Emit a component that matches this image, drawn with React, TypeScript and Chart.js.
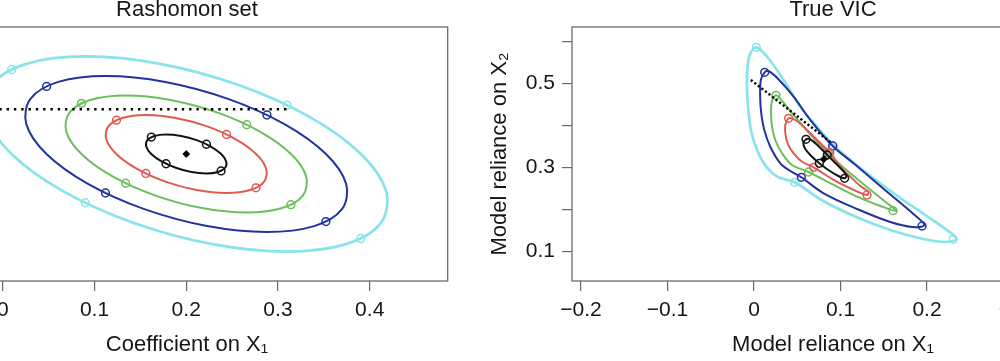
import React, { useEffect, useRef } from "react";
import { Chart, registerables } from "chart.js";

Chart.register(...registerables);

type Pt = [number, number];

// ---------- Left panel: Rashomon set (coefficient space) ----------
const rashomonBlack: Pt[] = [
  [0.2381, 0.25], [0.2436, 0.2353], [0.2424, 0.2229], [0.2348, 0.2145], [0.2219, 0.2116], [0.2057, 0.2145],
  [0.1886, 0.2229], [0.1732, 0.2353], [0.1619, 0.25], [0.1564, 0.2647], [0.1576, 0.2772], [0.1652, 0.2855],
  [0.1781, 0.2884], [0.1943, 0.2855], [0.2114, 0.2772], [0.2268, 0.2647],
];
const rashomonRed: Pt[] = [
  [0.2762, 0.25], [0.2872, 0.2206], [0.2849, 0.1957], [0.2697, 0.179], [0.2439, 0.1732], [0.2114, 0.179],
  [0.1772, 0.1957], [0.1464, 0.2206], [0.1238, 0.25], [0.1128, 0.2794], [0.1151, 0.3043], [0.1303, 0.321],
  [0.1561, 0.3268], [0.1886, 0.321], [0.2228, 0.3043], [0.2536, 0.2794],
];
const rashomonGreen: Pt[] = [
  [0.3142, 0.25], [0.3307, 0.2059], [0.3273, 0.1686], [0.3045, 0.1436], [0.2658, 0.1348], [0.2171, 0.1436],
  [0.1658, 0.1686], [0.1197, 0.2059], [0.0858, 0.25], [0.0693, 0.2941], [0.0727, 0.3314], [0.0955, 0.3564],
  [0.1342, 0.3652], [0.1829, 0.3564], [0.2342, 0.3314], [0.2803, 0.2941],
];
const rashomonBlue: Pt[] = [
  [0.3523, 0.25], [0.3743, 0.1912], [0.3698, 0.1414], [0.3394, 0.1081], [0.2878, 0.0964], [0.2228, 0.1081],
  [0.1544, 0.1414], [0.0929, 0.1912], [0.0477, 0.25], [0.0257, 0.3088], [0.0302, 0.3586], [0.0606, 0.3919],
  [0.1122, 0.4036], [0.1772, 0.3919], [0.2456, 0.3586], [0.3071, 0.3088],
];
const rashomonCyan: Pt[] = [
  [0.3904, 0.25], [0.4179, 0.1765], [0.4122, 0.1143], [0.3742, 0.0726], [0.3097, 0.058], [0.2285, 0.0726],
  [0.143, 0.1143], [0.0661, 0.1765], [0.0096, 0.25], [-0.0179, 0.3235], [-0.0122, 0.3857], [0.0258, 0.4274],
  [0.0903, 0.442], [0.1715, 0.4274], [0.2571, 0.3857], [0.3339, 0.3235],
];
const rashomonBlackMarks: Pt[] = [[0.238, 0.2167], [0.178, 0.2308], [0.162, 0.2833], [0.222, 0.2692]];
const rashomonRedMarks: Pt[] = [[0.2761, 0.1835], [0.156, 0.2116], [0.1239, 0.3165], [0.244, 0.2884]];
const rashomonGreenMarks: Pt[] = [[0.3141, 0.1502], [0.134, 0.1924], [0.0859, 0.3498], [0.266, 0.3076]];
const rashomonBlueMarks: Pt[] = [[0.3522, 0.117], [0.112, 0.1732], [0.0478, 0.383], [0.288, 0.3268]];
const rashomonCyanMarks: Pt[] = [[0.3902, 0.0837], [0.09, 0.154], [0.0098, 0.4163], [0.31, 0.346]];
const rashomonCenter: Pt[] = [[0.2, 0.25]];
const rashomonDotted: Pt[] = [[-0.0833, 0.338], [0.311, 0.338]];

// ---------- Right panel: True VIC (model reliance space) ----------
const vicCyan: Pt[] = [
  [0.0027, 0.5857], [-0.0049, 0.5674], [-0.0077, 0.5317], [-0.0081, 0.484], [-0.0062, 0.4286], [-0.0031, 0.384],
  [0.0027, 0.346], [0.0119, 0.3079], [0.0269, 0.2776], [0.0469, 0.2643], [0.0801, 0.2198], [0.1183, 0.1817],
  [0.1576, 0.1507], [0.1957, 0.1293], [0.2212, 0.1221], [0.2339, 0.1293], [0.2246, 0.1483], [0.198, 0.1864],
  [0.1691, 0.2269], [0.1379, 0.2745], [0.1113, 0.3174], [0.0917, 0.3531], [0.0728, 0.3967], [0.0535, 0.4443],
  [0.0342, 0.5079], [0.0154, 0.5626],
];
const vicBlue: Pt[] = [
  [0.0123, 0.5262], [0.0079, 0.5079], [0.0071, 0.4681], [0.0084, 0.4286], [0.0119, 0.3888], [0.0188, 0.349],
  [0.0304, 0.3095], [0.042, 0.2912], [0.0547, 0.2762], [0.0805, 0.2381], [0.1191, 0.2007], [0.1576, 0.1698],
  [0.183, 0.1579], [0.1969, 0.1626], [0.1842, 0.1888], [0.1653, 0.2221], [0.1422, 0.2619], [0.1151, 0.3095],
  [0.0909, 0.3507], [0.0651, 0.4126], [0.0458, 0.4681], [0.0269, 0.5126], [0.0165, 0.5293],
];
const vicGreen: Pt[] = [
  [0.0254, 0.4714], [0.0206, 0.4555], [0.0197, 0.4286], [0.0208, 0.3967], [0.0246, 0.365], [0.0324, 0.3333],
  [0.0439, 0.3055], [0.0631, 0.2888], [0.092, 0.2579], [0.1191, 0.23], [0.146, 0.2079], [0.1645, 0.196],
  [0.1506, 0.2198], [0.1306, 0.2531], [0.1113, 0.2857], [0.096, 0.3133], [0.0862, 0.3333], [0.0709, 0.365],
  [0.0573, 0.3967], [0.0408, 0.4364], [0.0316, 0.4602],
];
const vicRed: Pt[] = [
  [0.04, 0.4167], [0.0362, 0.4007], [0.0362, 0.381], [0.0388, 0.3571], [0.0458, 0.3333], [0.0555, 0.3133],
  [0.0689, 0.3], [0.092, 0.2698], [0.1113, 0.25], [0.1306, 0.234], [0.1321, 0.2412], [0.1229, 0.2555],
  [0.1113, 0.2776], [0.0998, 0.3014], [0.0876, 0.3352], [0.0728, 0.365], [0.0573, 0.3967], [0.0477, 0.4126],
];
const vicBlack: Pt[] = [
  [0.0601, 0.3667], [0.057, 0.3579], [0.0593, 0.3436], [0.0662, 0.3269], [0.0755, 0.3095], [0.0859, 0.2936],
  [0.0975, 0.2793], [0.1047, 0.2738], [0.1067, 0.2817], [0.0998, 0.2983], [0.0917, 0.315], [0.0847, 0.3293],
  [0.0743, 0.3507], [0.0651, 0.3662],
];
const vicBlackMarks: Pt[] = [[0.0601, 0.3667], [0.0755, 0.3095], [0.1047, 0.2738], [0.0847, 0.3293]];
const vicRedMarks: Pt[] = [[0.04, 0.4167], [0.0689, 0.3], [0.1306, 0.234], [0.0876, 0.3352]];
const vicGreenMarks: Pt[] = [[0.0254, 0.4714], [0.0631, 0.2888], [0.1607, 0.1967], [0.0862, 0.3333]];
const vicBlueMarks: Pt[] = [[0.0123, 0.5262], [0.0547, 0.2762], [0.1942, 0.1602], [0.0909, 0.3507]];
const vicCyanMarks: Pt[] = [[0.0027, 0.5857], [0.0469, 0.2643], [0.2301, 0.1286], [0.0917, 0.3507]];
const vicCenter: Pt[] = [[0.081, 0.32]];
const vicDotted: Pt[] = [[-0.0037, 0.5079], [0.0882, 0.3602]];

// ---------- Ticks ----------
const leftXTicks = [0, 0.1, 0.2, 0.3, 0.4];
const leftXLabels = ["0", "0.1", "0.2", "0.3", "0.4"];
const rightXTicks = [-0.2, -0.1, 0, 0.1, 0.2, 0.3];
const rightXLabels = ["\u22120.2", "\u22120.1", "0", "0.1", "0.2", "0.3"];
const rightYTicks = [0.1, 0.2, 0.3, 0.4, 0.5, 0.6];
const rightYLabels = ["0.1", "", "0.3", "", "0.5", ""];

// ---------- Styles ----------
const FONT = "'Liberation Sans', Arial, Helvetica, sans-serif";
const C_CYAN = "#88e4e8";
const C_BLUE = "#22339e";
const C_GREEN = "#6bbf5c";
const C_RED = "#df5b52";
const C_BLACK = "#141414";
const TEXT = "#161616";
const AXIS = "#6a6a6a";

const toXY = (pts: Pt[]) => pts.map(([x, y]) => ({ x, y }));

function contour(pts: Pt[], color: string, width: number, tension: number) {
  const data = toXY([pts[pts.length - 1], ...pts, pts[0], pts[1]]);
  const last = data.length - 1;
  return {
    data,
    showLine: true,
    borderColor: color,
    borderWidth: width,
    pointRadius: 0,
    pointHoverRadius: 0,
    tension,
    fill: false,
    segment: {
      borderColor: (ctx: any) =>
        ctx.p0DataIndex === 0 || ctx.p1DataIndex === last ? "rgba(0,0,0,0)" : undefined,
    },
  };
}

function marks(pts: Pt[], color: string) {
  return {
    data: toXY(pts),
    showLine: false,
    pointStyle: "circle",
    pointRadius: 3.9,
    pointHoverRadius: 3.9,
    pointBorderWidth: 1.5,
    pointBorderColor: color,
    pointBackgroundColor: "rgba(0,0,0,0)",
  };
}

function dotted(pts: Pt[], dash: number[]) {
  return {
    data: toXY(pts),
    showLine: true,
    borderColor: "#000",
    borderWidth: 2.4,
    borderDash: dash,
    pointRadius: 0,
    tension: 0,
  };
}

function center(pts: Pt[]) {
  return {
    data: toXY(pts),
    showLine: false,
    pointStyle: "rectRot",
    pointRadius: 3.4,
    pointBackgroundColor: "#000",
    pointBorderColor: "#000",
    pointBorderWidth: 1,
  };
}

const boxPlugin = {
  id: "plotBox",
  afterDraw(chart: any) {
    const { ctx, chartArea } = chart;
    ctx.save();
    ctx.strokeStyle = AXIS;
    ctx.lineWidth = 1.3;
    ctx.strokeRect(chartArea.left, chartArea.top, chartArea.right - chartArea.left, chartArea.bottom - chartArea.top);
    ctx.restore();
  },
};

function titleOpts(text: string) {
  return {
    display: true,
    text,
    fullSize: false,
    color: TEXT,
    font: { family: FONT, size: 22, weight: "normal" as const, lineHeight: 0.9 },
    padding: { top: 0, bottom: 7.2 },
  };
}

function xScale(min: number, max: number, ticks: number[], labels: string[], title: string) {
  return {
    type: "linear" as const,
    min,
    max,
    afterBuildTicks: (s: any) => {
      s.ticks = ticks.map((v) => ({ value: v }));
    },
    afterFit: (s: any) => {
      s.height = 80;
    },
    ticks: {
      autoSkip: false,
      maxRotation: 0,
      padding: 7,
      color: TEXT,
      font: { family: FONT, size: 21 },
      callback: (_v: any, i: number) => labels[i],
    },
    grid: { drawOnChartArea: false, drawTicks: true, tickLength: 10, color: AXIS, lineWidth: 1.2 },
    border: { display: false },
    title: {
      display: true,
      text: title,
      color: TEXT,
      font: { family: FONT, size: 22, lineHeight: 1 },
      padding: { top: 0, bottom: 5 },
    },
  };
}

export default function App() {
  const leftRef = useRef<HTMLCanvasElement>(null);
  const rightRef = useRef<HTMLCanvasElement>(null);

  useEffect(() => {
    const left = new Chart(leftRef.current!, {
      type: "scatter",
      data: {
        datasets: [
          dotted(rashomonDotted, [2.4, 4.9]),
          center(rashomonCenter),
          marks(rashomonBlackMarks, C_BLACK),
          contour(rashomonBlack, C_BLACK, 2, 0.34),
          marks(rashomonRedMarks, C_RED),
          contour(rashomonRed, C_RED, 2, 0.34),
          marks(rashomonGreenMarks, C_GREEN),
          contour(rashomonGreen, C_GREEN, 2, 0.34),
          marks(rashomonBlueMarks, C_BLUE),
          contour(rashomonBlue, C_BLUE, 2, 0.34),
          marks(rashomonCyanMarks, C_CYAN),
          contour(rashomonCyan, C_CYAN, 2.7, 0.34),
        ] as any,
      },
      options: {
        animation: false,
        responsive: false,
        devicePixelRatio: 1,
        events: [],
        layout: { padding: { left: 6.3, right: 12.3, top: 0, bottom: 0 } },
        plugins: {
          legend: { display: false },
          tooltip: { enabled: false },
          title: titleOpts("Rashomon set") as any,
        },
        scales: {
          x: xScale(-0.0833, 0.485, leftXTicks, leftXLabels, "Coefficient on X\u2081") as any,
          y: { type: "linear", min: 0, max: 0.5, display: false },
        },
      },
      plugins: [boxPlugin],
    });

    const right = new Chart(rightRef.current!, {
      type: "scatter",
      data: {
        datasets: [
          dotted(vicDotted, [2.2, 2.3]),
          center(vicCenter),
          marks(vicBlackMarks, C_BLACK),
          contour(vicBlack, C_BLACK, 2, 0.35),
          marks(vicRedMarks, C_RED),
          contour(vicRed, C_RED, 2, 0.35),
          marks(vicGreenMarks, C_GREEN),
          contour(vicGreen, C_GREEN, 2, 0.35),
          marks(vicBlueMarks, C_BLUE),
          contour(vicBlue, C_BLUE, 2, 0.35),
          marks(vicCyanMarks, C_CYAN),
          contour(vicCyan, C_CYAN, 2.7, 0.35),
        ] as any,
      },
      options: {
        animation: false,
        responsive: false,
        devicePixelRatio: 1,
        events: [],
        layout: { padding: { left: 0, right: 26, top: 0, bottom: 0 } },
        plugins: {
          legend: { display: false },
          tooltip: { enabled: false },
          title: titleOpts("True VIC") as any,
        },
        scales: {
          x: xScale(-0.2104, 0.393, rightXTicks, rightXLabels, "Model reliance on X\u2081") as any,
          y: {
            type: "linear",
            min: 0.0293,
            max: 0.634,
            afterBuildTicks: (s: any) => {
              s.ticks = rightYTicks.map((v) => ({ value: v }));
            },
            afterFit: (s: any) => {
              s.width = 92;
            },
            ticks: {
              autoSkip: false,
              padding: 7,
              color: TEXT,
              font: { family: FONT, size: 21 },
              callback: (_v: any, i: number) => rightYLabels[i],
            },
            grid: { drawOnChartArea: false, drawTicks: true, tickLength: 10, color: AXIS, lineWidth: 1.2 },
            border: { display: false },
            title: {
              display: true,
              text: "Model reliance on X\u2082",
              color: TEXT,
              font: { family: FONT, size: 22, lineHeight: 1 },
              padding: { top: 9, bottom: 0 },
            },
          } as any,
        },
      },
      plugins: [boxPlugin],
    });

    return () => {
      left.destroy();
      right.destroy();
    };
  }, []);

  return (
    <div
      style={{
        position: "fixed",
        left: 0,
        top: 0,
        width: 1000,
        height: 361,
        overflow: "hidden",
        background: "#fff",
      }}
    >
      <canvas
        ref={leftRef}
        width={540}
        height={361}
        style={{ position: "absolute", left: -80, top: 0, width: 540, height: 361 }}
      />
      <canvas
        ref={rightRef}
        width={640}
        height={361}
        style={{ position: "absolute", left: 480, top: 0, width: 640, height: 361 }}
      />
    </div>
  );
}
